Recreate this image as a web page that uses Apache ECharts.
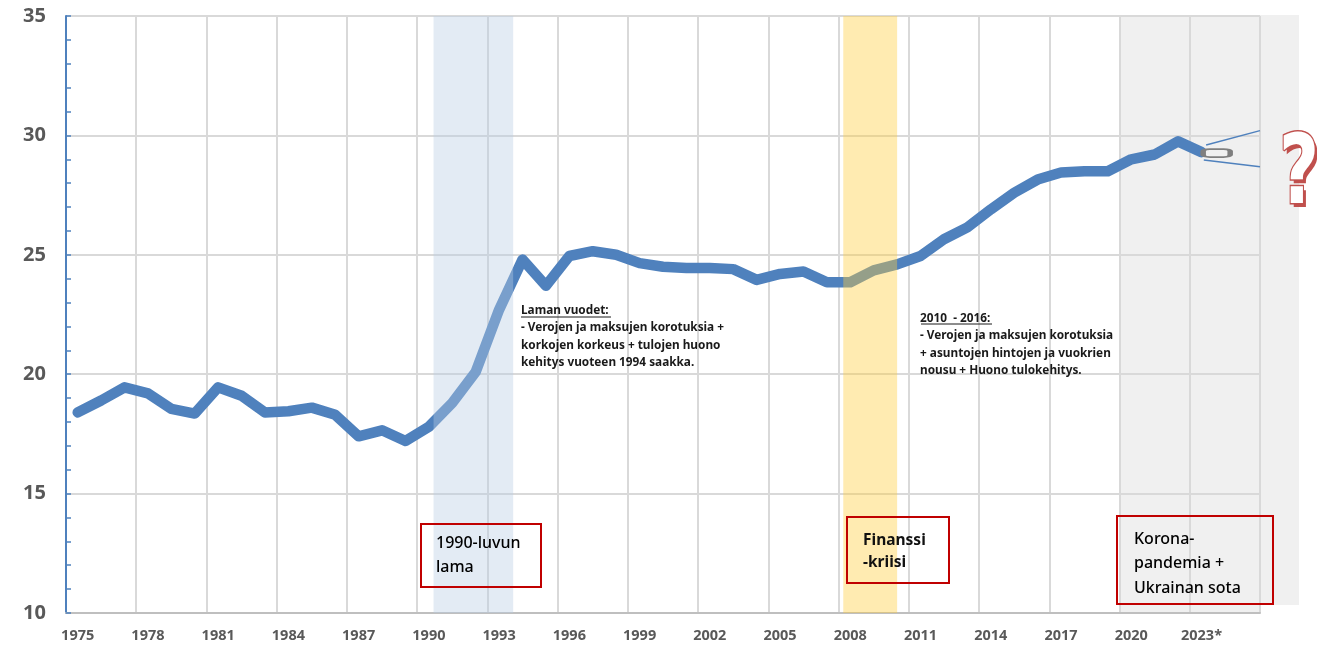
<!DOCTYPE html>
<html>
<head>
<meta charset="utf-8">
<script src="https://cdn.jsdelivr.net/npm/echarts@6/dist/echarts.min.js"></script>
<style>
  html, body { margin: 0; padding: 0; background: #fff; }
</style>
</head>
<body>
<div id="myChart" style="width: 1317px; height: 647px"></div>
<script>
// vuodet (2023* = ennakko), kaksi tyhjää vuotta oikealla
const years = ['1975', '1976', '1977', '1978', '1979', '1980', '1981', '1982', '1983', '1984',
  '1985', '1986', '1987', '1988', '1989', '1990', '1991', '1992', '1993', '1994',
  '1995', '1996', '1997', '1998', '1999', '2000', '2001', '2002', '2003', '2004',
  '2005', '2006', '2007', '2008', '2009', '2010', '2011', '2012', '2013', '2014',
  '2015', '2016', '2017', '2018', '2019', '2020', '2021', '2022', '2023*', '2024', '2025'];

const values = [18.4, 18.9, 19.45, 19.2, 18.55, 18.35, 19.45, 19.1, 18.4, 18.45,
  18.6, 18.3, 17.4, 17.65, 17.2, 17.8, 18.8, 20.1, 22.7, 24.8,
  23.7, 24.95, 25.15, 25.0, 24.65, 24.5, 24.45, 24.45, 24.4, 23.95,
  24.2, 24.3, 23.85, 23.85, 24.35, 24.6, 24.95, 25.65, 26.15, 26.9,
  27.6, 28.15, 28.45, 28.5, 28.5, 29.0, 29.2, 29.75, 29.3, null, null];

// ennusteen haarukka (x = vuosipaikka akselilla 0..51)
const forecastHigh = [[48.7, 29.6], [51, 30.2]];
const forecastLow = [[48.6, 28.97], [51, 28.69]];
const pillPos = [49.15, 29.26];

// jaksot (x = vuosipaikka)
const lamaBand = [15.7, 19.1];
const finanssiBand = [33.2, 35.5];
const koronaBand = [45, 51];

const yTicks = { min: 10, max: 35, step: 5 };

let myChart = echarts.init(document.getElementById('myChart'));

const txtFont = 'bold 11.8px "Noto Sans", sans-serif';
const boxFont = '500 16px "Noto Sans", sans-serif';

myChart.setOption({
  animation: false,
  grid: { left: 66, right: 57, top: 16, bottom: 34 },
  xAxis: [
    {
      type: 'category',
      data: years,
      boundaryGap: true,
      z: 1,
      axisLine: { lineStyle: { color: '#bfbfbf', width: 2 } },
      axisTick: { show: false },
      axisLabel: {
        interval: 2,
        color: '#595959',
        fontWeight: 'bold',
        fontSize: 14.5,
        fontFamily: 'Noto Sans',
        margin: 15
      },
      splitLine: { show: true, interval: 2, lineStyle: { color: '#d9d9d9', width: 2 } }
    },
    {
      type: 'value',
      min: 0,
      max: 51,
      show: false
    }
  ],
  yAxis: {
    type: 'value',
    min: yTicks.min,
    max: yTicks.max,
    interval: yTicks.step,
    z: 1,
    axisLine: { show: true, lineStyle: { color: '#4f81bd', width: 2 } },
    axisTick: { show: true, inside: true, length: 5, lineStyle: { color: '#4f81bd', width: 1.5 } },
    minorTick: { show: true, splitNumber: 5, length: 5, lineStyle: { color: '#4f81bd', width: 1.5 } },
    axisLabel: {
      color: '#595959',
      fontWeight: 'bold',
      fontSize: 20,
      fontFamily: 'Noto Sans',
      margin: 20
    },
    splitLine: { lineStyle: { color: '#d9d9d9', width: 2 } }
  },
  series: [
    {
      // harmaa tausta 2020-
      type: 'line',
      xAxisIndex: 1,
      data: [],
      markArea: {
        silent: true,
        z: 0,
        itemStyle: { color: '#f0f0f0' },
        data: [[{ xAxis: koronaBand[0], yAxis: yTicks.max }, { xAxis: koronaBand[1], yAxis: yTicks.min }]]
      }
    },
    {
      name: 'menot',
      type: 'line',
      z: 2,
      data: values,
      symbol: 'none',
      lineStyle: { color: '#4f81bd', width: 10.5, cap: 'round', join: 'round' }
    },
    {
      type: 'line',
      xAxisIndex: 1,
      z: 3,
      data: forecastHigh,
      symbol: 'none',
      lineStyle: { color: '#4f81bd', width: 1.5 },
      markPoint: {
        silent: true,
        symbol: 'roundRect',
        symbolSize: [27, 8],
        label: { show: false },
        itemStyle: { color: '#f0f0f0', borderColor: '#7f7f7f', borderWidth: 3 },
        data: [{ coord: pillPos }]
      },
      markArea: {
        silent: true,
        z: 3,
        data: [
          [{ xAxis: lamaBand[0], yAxis: yTicks.max, itemStyle: { color: 'rgba(184,204,228,0.4)' } },
           { xAxis: lamaBand[1], yAxis: yTicks.min }],
          [{ xAxis: finanssiBand[0], yAxis: yTicks.max, itemStyle: { color: 'rgba(255,204,60,0.4)' } },
           { xAxis: finanssiBand[1], yAxis: yTicks.min }]
        ]
      }
    },
    {
      type: 'line',
      xAxisIndex: 1,
      z: 3,
      data: forecastLow,
      symbol: 'none',
      lineStyle: { color: '#4f81bd', width: 1.5 }
    }
  ],
  graphic: [
    // harmaa alue jatkuu akselin yli
    { type: 'rect', z: -1, silent: true, shape: { x: 1260, y: 15, width: 39, height: 590 }, style: { fill: '#f0f0f0' } },
    {
      type: 'text', z: 10, x: 521, y: 302,
      style: {
        text: 'Laman vuodet:\n- Verojen ja maksujen korotuksia +\nkorkojen korkeus + tulojen huono\nkehitys vuoteen 1994 saakka.',
        font: txtFont, fill: '#1a1a1a', lineHeight: 17.3, textVerticalAlign: 'top'
      }
    },
    { type: 'line', z: 10, shape: { x1: 521, y1: 317, x2: 611, y2: 317 }, style: { stroke: '#1a1a1a', lineWidth: 1 } },
    {
      type: 'text', z: 10, x: 920, y: 310,
      style: {
        text: '2010  - 2016:\n- Verojen ja maksujen korotuksia\n+ asuntojen hintojen ja vuokrien\nnousu + Huono tulokehitys.',
        font: txtFont, fill: '#1a1a1a', lineHeight: 17.3, textVerticalAlign: 'top'
      }
    },
    { type: 'line', z: 10, shape: { x1: 921, y1: 324, x2: 992, y2: 324 }, style: { stroke: '#1a1a1a', lineWidth: 1 } },

    { type: 'rect', z: 10, shape: { x: 421, y: 524, width: 120, height: 63 }, style: { fill: 'none', stroke: '#c00000', lineWidth: 2 } },
    {
      type: 'text', z: 10, x: 436, y: 532,
      style: { text: '1990-luvun\nlama', font: boxFont, fill: '#000', lineHeight: 23.5, textVerticalAlign: 'top' }
    },
    { type: 'rect', z: 10, shape: { x: 847, y: 517, width: 102, height: 66 }, style: { fill: 'none', stroke: '#c00000', lineWidth: 2 } },
    {
      type: 'text', z: 10, x: 863, y: 530,
      style: { text: 'Finanssi\n-kriisi', font: 'bold 15.5px "Noto Sans", sans-serif', fill: '#111', lineHeight: 22, textVerticalAlign: 'top' }
    },
    { type: 'rect', z: 10, shape: { x: 1117, y: 516, width: 156, height: 88 }, style: { fill: 'none', stroke: '#c00000', lineWidth: 2 } },
    {
      type: 'text', z: 10, x: 1134, y: 527,
      style: { text: 'Korona-\npandemia +\nUkrainan sota', font: boxFont, fill: '#000', lineHeight: 24.5, textVerticalAlign: 'top' }
    },

    // iso kysymysmerkki
    {
      type: 'text', z: 10, x: 1302, y: 182, scaleX: 0.72,
      style: { text: '?', font: 'bold 96px "DejaVu Sans", sans-serif', fill: '#c0504d', textAlign: 'center', textVerticalAlign: 'middle' }
    },
    {
      type: 'text', z: 11, x: 1299, y: 178, scaleX: 0.72,
      style: { text: '?', font: 'bold 96px "DejaVu Sans", sans-serif', fill: '#ffffff', stroke: '#c0504d', lineWidth: 3, textAlign: 'center', textVerticalAlign: 'middle' }
    }
  ]
});
</script>
</body>
</html>
